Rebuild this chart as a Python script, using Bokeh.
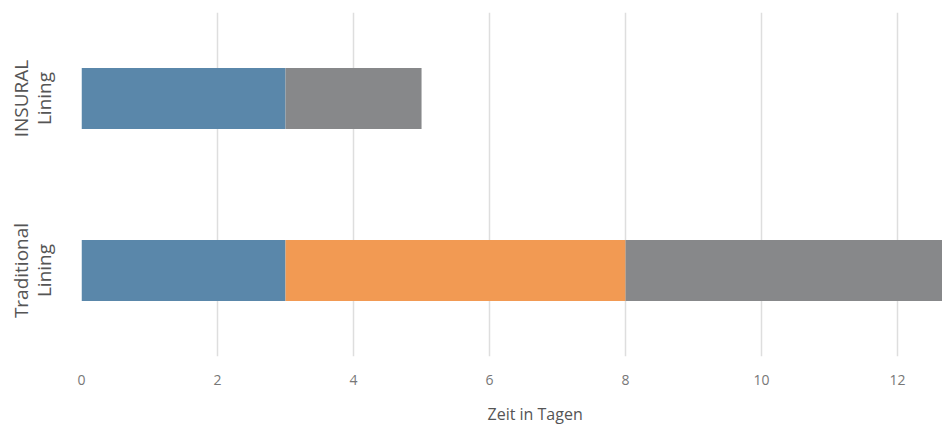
from bokeh.plotting import figure
from bokeh.models import Range1d, FactorRange, FixedTicker, Title
from bokeh.embed import file_html
from bokeh.resources import INLINE

# ---- data ----
categories = ["Traditional\nLining", "INSURAL\nLining"]
stages = ["stage_1", "stage_2", "stage_3"]
stage_1 = [3, 3]
stage_2 = [5, 0]
stage_3 = [6, 2]
colors = ["#5a87aa", "#f29a53", "#87888a"]
x_ticks = [0, 2, 4, 6, 8, 10, 12]
x_label = "Zeit in Tagen"

data = {"cat": categories, "stage_1": stage_1, "stage_2": stage_2, "stage_3": stage_3}

p = figure(width=942, height=437, output_backend="svg", toolbar_location=None,
           y_range=FactorRange(factors=categories, range_padding=0),
           x_range=Range1d(0, 12.66))
p.min_border_left = 81
p.min_border_right = 0
p.min_border_top = 12
p.min_border_bottom = 80
p.outline_line_color = None
p.background_fill_color = "white"
p.border_fill_color = "white"

p.hbar_stack(stages, y="cat", height=0.354, color=colors, source=data, line_width=0)

p.xaxis.ticker = FixedTicker(ticks=x_ticks)
p.xaxis.axis_line_color = None
p.xaxis.major_tick_line_color = None
p.xaxis.minor_tick_line_color = None
p.xaxis.major_label_standoff = 12
p.xaxis.major_label_text_font = "Open Sans"
p.xaxis.major_label_text_font_size = "14px"
p.xaxis.major_label_text_color = "#777777"

p.yaxis.axis_line_color = None
p.yaxis.major_tick_line_color = None
p.yaxis.minor_tick_line_color = None
p.yaxis.major_label_orientation = "vertical"
p.yaxis.major_label_standoff = 19
p.yaxis.major_label_text_font = "Open Sans"
p.yaxis.major_label_text_font_size = "19px"
p.yaxis.major_label_text_color = "#555555"
p.yaxis.major_label_text_line_height = 0.85

p.xgrid.grid_line_color = "#dedede"
p.xgrid.grid_line_width = 1.5
p.ygrid.grid_line_color = None

t = Title(text=x_label, align="left", offset=406, text_font="Open Sans",
          text_font_size="16px", text_font_style="normal", text_color="#555555",
          standoff=26)
p.add_layout(t, "below")

open("out.html", "w").write(file_html(p, INLINE))
